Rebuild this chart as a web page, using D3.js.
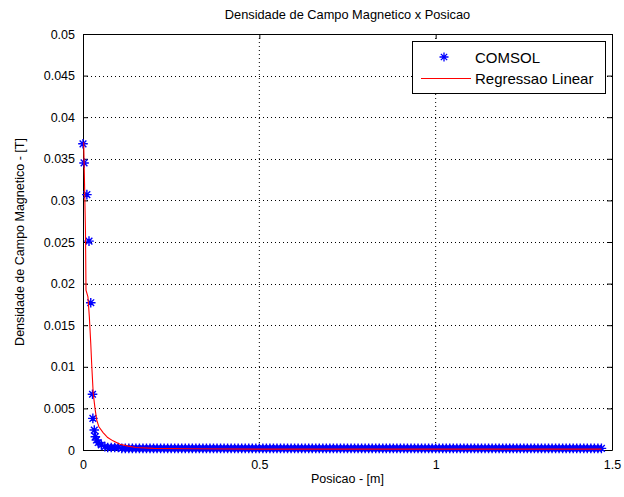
<!DOCTYPE html>
<html><head><meta charset="utf-8">
<script src="https://cdn.jsdelivr.net/npm/d3@7"></script>
<style>body{margin:0;background:#fff}svg{display:block}text{font-family:"Liberation Sans",Arial,sans-serif;}</style>
</head><body><svg id="c" width="624" height="497"></svg>
<script>
// COMSOL data (position in m, flux density in T)
const comsolX = [0, 0.003, 0.011, 0.017, 0.022, 0.027, 0.028, 0.032, 0.035, 0.038, 0.043, 0.052, 0.062,
  0.07,0.08,0.09,0.10,0.11,0.12,0.13,0.14,0.15,0.16,0.17,0.18,0.19,0.20,0.21,0.22,0.23,0.24,0.25,0.26,0.27,0.28,0.29,
  0.30,0.31,0.32,0.33,0.34,0.35,0.36,0.37,0.38,0.39,0.40,0.41,0.42,0.43,0.44,0.45,0.46,0.47,0.48,0.49,
  0.50,0.51,0.52,0.53,0.54,0.55,0.56,0.57,0.58,0.59,0.60,0.61,0.62,0.63,0.64,0.65,0.66,0.67,0.68,0.69,
  0.70,0.71,0.72,0.73,0.74,0.75,0.76,0.77,0.78,0.79,0.80,0.81,0.82,0.83,0.84,0.85,0.86,0.87,0.88,0.89,
  0.90,0.91,0.92,0.93,0.94,0.95,0.96,0.97,0.98,0.99,1.00,1.01,1.02,1.03,1.04,1.05,1.06,1.07,1.08,1.09,
  1.10,1.11,1.12,1.13,1.14,1.15,1.16,1.17,1.18,1.19,1.20,1.21,1.22,1.23,1.24,1.25,1.26,1.27,1.28,1.29,
  1.30,1.31,1.32,1.33,1.34,1.35,1.36,1.37,1.38,1.39,1.40,1.41,1.42,1.43,1.44,1.45,1.46,1.47];
const comsolY = [0.0368, 0.0345, 0.0307, 0.0251, 0.0177, 0.0067, 0.0038, 0.0024, 0.0016, 0.0012, 0.0009, 0.0006, 0.0004,
  0.0003,0.0003,0.0003,0.0003,0.0002,0.0002,0.0002,0.0002,0.0002,0.0002,0.0002,0.0002,0.0002,0.0002,0.0002,0.0002,0.0002,0.0002,0.0002,0.0002,0.0002,0.0002,0.0002,
  0.0002,0.0002,0.0002,0.0002,0.0002,0.0002,0.0002,0.0002,0.0002,0.0002,0.0002,0.0002,0.0002,0.0002,0.0002,0.0002,0.0002,0.0002,0.0002,0.0002,
  0.0002,0.0002,0.0002,0.0002,0.0002,0.0002,0.0002,0.0002,0.0002,0.0002,0.0002,0.0002,0.0002,0.0002,0.0002,0.0002,0.0002,0.0002,0.0002,0.0002,
  0.0002,0.0002,0.0002,0.0002,0.0002,0.0002,0.0002,0.0002,0.0002,0.0002,0.0002,0.0002,0.0002,0.0002,0.0002,0.0002,0.0002,0.0002,0.0002,0.0002,
  0.0002,0.0002,0.0002,0.0002,0.0002,0.0002,0.0002,0.0002,0.0002,0.0002,0.0002,0.0002,0.0002,0.0002,0.0002,0.0002,0.0002,0.0002,0.0002,0.0002,
  0.0002,0.0002,0.0002,0.0002,0.0002,0.0002,0.0002,0.0002,0.0002,0.0002,0.0002,0.0002,0.0002,0.0002,0.0002,0.0002,0.0002,0.0002,0.0002,0.0002,
  0.0002,0.0002,0.0002,0.0002,0.0002,0.0002,0.0002,0.0002,0.0002,0.0002,0.0002,0.0002,0.0002,0.0002,0.0002,0.0002,0.0002,0.0002];
// Regression curve
const fitX = [0.002, 0.007, 0.0085, 0.014, 0.018, 0.022, 0.025, 0.029, 0.034, 0.039, 0.045, 0.057, 0.07, 0.085, 0.105, 0.125, 0.15, 0.2, 0.3, 0.5, 1.0, 1.47];
const fitY = [0.0370, 0.0264, 0.0192, 0.0184, 0.0160, 0.0128, 0.0100, 0.0068, 0.0050, 0.0036, 0.0028, 0.0021, 0.0015, 0.0011, 0.0007, 0.0005, 0.0003, 0.0002, 0.00015, 0.0001, 0.0001, 0.0001];
const xTicks = [0, 0.5, 1, 1.5];
const yTicks = [0, 0.005, 0.01, 0.015, 0.02, 0.025, 0.03, 0.035, 0.04, 0.045, 0.05];
const titleText = "Densidade de Campo Magnetico x Posicao";
const xLabel = "Posicao - [m]";
const yLabel = "Densidade de Campo Magnetico - [T]";
const legendLabels = ["COMSOL", "Regressao Linear"];

const L = 83, R = 612, T = 34, B = 450;
const svg = d3.select("#c");
const x = d3.scaleLinear().domain([0, 1.5]).range([L, R]);
const y = d3.scaleLinear().domain([0, 0.05]).range([B, T]);

// grid
const g = svg.append("g");
g.selectAll(".gx").data(xTicks.slice(1, -1)).enter().append("line")
  .attr("x1", d => x(d)).attr("x2", d => x(d)).attr("y1", T).attr("y2", B)
  .attr("stroke", "#000").attr("stroke-width", 1).attr("stroke-dasharray", "1,3");
g.selectAll(".gy").data(yTicks.slice(1, -1)).enter().append("line")
  .attr("y1", d => Math.round(y(d)) + 0.5).attr("y2", d => Math.round(y(d)) + 0.5).attr("x1", L).attr("x2", R)
  .attr("stroke", "#000").attr("stroke-width", 1).attr("stroke-dasharray", "1,3");

// axes
const fmt = d => String(+d.toFixed(4));
svg.append("g").attr("transform", `translate(0,${B})`)
  .call(d3.axisBottom(x).tickValues(xTicks).tickFormat(fmt).tickSizeInner(-5).tickSizeOuter(0).tickPadding(10));
svg.append("g").attr("transform", `translate(${L},0)`)
  .call(d3.axisLeft(y).tickValues(yTicks).tickFormat(fmt).tickSizeInner(-5).tickSizeOuter(0).tickPadding(8));
svg.append("g").attr("transform", `translate(0,${T})`)
  .call(d3.axisTop(x).tickValues(xTicks).tickFormat("").tickSizeInner(-5).tickSizeOuter(0));
svg.append("g").attr("transform", `translate(${R},0)`)
  .call(d3.axisRight(y).tickValues(yTicks).tickFormat("").tickSizeInner(-5).tickSizeOuter(0));
svg.selectAll(".tick text").attr("font-size", 12.5).attr("fill", "#000").attr("font-family", "Liberation Sans, Arial, sans-serif");
svg.selectAll(".domain, .tick line").attr("stroke", "#000");

// star marker
const star = (cx, cy, s) => `M${cx-s},${cy}L${cx+s},${cy}M${cx},${cy-s}L${cx},${cy+s}` +
  `M${cx-s*0.7},${cy-s*0.7}L${cx+s*0.7},${cy+s*0.7}M${cx-s*0.7},${cy+s*0.7}L${cx+s*0.7},${cy-s*0.7}`;

const pts = comsolX.map((d, i) => [d, comsolY[i]]);
svg.append("path").attr("d", pts.map(p => star(x(p[0]), y(p[1]), 4.8)).join(""))
  .attr("stroke", "#0000ff").attr("stroke-width", 1.4).attr("fill", "none");

const line = d3.line().x(d => x(d[0])).y(d => y(d[1]));
svg.append("path").datum(fitX.map((d, i) => [d, fitY[i]])).attr("d", line)
  .attr("stroke", "#ff0000").attr("stroke-width", 1.1).attr("fill", "none");

// titles
svg.append("text").attr("x", (L + R) / 2).attr("y", 19).attr("text-anchor", "middle").attr("font-size", 12.8).text(titleText);
svg.append("text").attr("x", (L + R) / 2).attr("y", 483).attr("text-anchor", "middle").attr("font-size", 12.5).text(xLabel);
svg.append("text").attr("transform", `translate(24,${(T + B) / 2}) rotate(-90)`).attr("text-anchor", "middle").attr("font-size", 12.5).text(yLabel);

// legend
const lg = svg.append("g");
lg.append("rect").attr("x", 412.5).attr("y", 41.5).attr("width", 193).attr("height", 52).attr("fill", "#fff").attr("stroke", "#000");
lg.append("path").attr("d", star(444, 57, 4.5)).attr("stroke", "#0000ff").attr("stroke-width", 1.3).attr("fill", "none");
lg.append("line").attr("x1", 421).attr("x2", 471).attr("y1", 78.5).attr("y2", 78.5).attr("stroke", "#ff0000");
lg.selectAll(".lt").data(legendLabels).enter().append("text")
  .attr("x", 475).attr("y", (d, i) => 62.5 + i * 21.5).attr("font-size", 15).text(d => d);
</script></body></html>
